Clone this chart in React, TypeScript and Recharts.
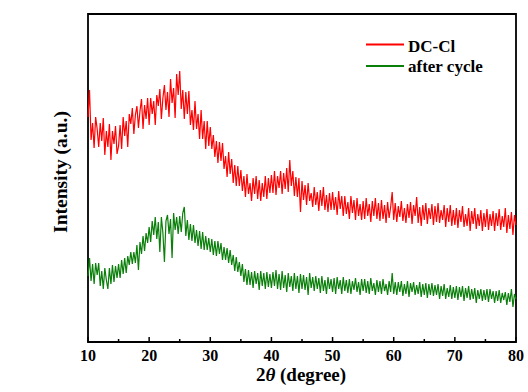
import React from 'react';
import { LineChart, Line, XAxis, YAxis, ReferenceArea } from 'recharts';

// 2θ grid: 10° to 80°, step 0.25°
const START_ANGLE = 10;
const STEP = 0.25;

const xTicks = [10, 15, 20, 25, 30, 35, 40, 45, 50, 55, 60, 65, 70, 75, 80];
const xTickLabels = ['10', '20', '30', '40', '50', '60', '70', '80'];

const seriesNames = ['DC-Cl', 'after cycle'];
const seriesColors = ['#ff0000', '#0a7f0a'];

// Intensity (a.u., offset traces)
const dcCl = [
  225, 252, 202, 219, 194, 225, 213, 195, 219, 201, 224, 187, 211, 195, 218, 182, 211, 198, 216, 188,
  196, 217, 193, 225, 206, 221, 195, 228, 218, 234, 208, 227, 236, 214, 231, 243, 213, 237, 223, 244,
  217, 244, 228, 241, 217, 247, 236, 253, 223, 244, 257, 232, 250, 225, 263, 239, 254, 224, 268, 247,
  271, 233, 252, 223, 250, 228, 251, 217, 232, 212, 241, 213, 228, 203, 232, 203, 221, 193, 221, 196,
  215, 193, 207, 185, 201, 179, 200, 181, 199, 173, 186, 165, 190, 168, 183, 159, 177, 156, 176, 156,
  172, 151, 166, 145, 168, 148, 159, 141, 164, 148, 166, 143, 162, 141, 159, 145, 166, 143, 164, 149,
  167, 149, 171, 147, 166, 154, 171, 148, 169, 153, 174, 150, 182, 156, 171, 146, 165, 145, 164, 130,
  161, 142, 157, 137, 159, 141, 149, 135, 155, 137, 150, 131, 152, 136, 155, 132, 147, 130, 149, 132,
  150, 132, 145, 127, 151, 133, 146, 126, 146, 128, 140, 123, 146, 129, 142, 122, 144, 126, 138, 122,
  141, 123, 144, 126, 138, 120, 141, 126, 144, 123, 139, 121, 142, 123, 137, 119, 140, 124, 135, 150,
  122, 139, 120, 136, 125, 141, 121, 134, 119, 138, 124, 140, 118, 137, 126, 145, 119, 135, 116, 137,
  122, 139, 118, 134, 123, 138, 117, 136, 120, 139, 119, 132, 122, 137, 115, 134, 120, 137, 116, 132,
  117, 134, 114, 132, 120, 136, 115, 128, 116, 134, 111, 131, 118, 134, 113, 128, 116, 132, 111, 129,
  115, 133, 112, 128, 116, 131, 111, 129, 116, 133, 112, 126, 115, 134, 109, 127, 113, 130, 107, 127,
  117,
];

const afterCycle = [
  66, 84, 61, 78, 58, 79, 67, 79, 56, 71, 53, 74, 62, 53, 74, 58, 77, 60, 76, 64,
  78, 64, 82, 68, 84, 69, 86, 77, 90, 78, 90, 79, 97, 72, 100, 88, 106, 91, 109, 99,
  115, 100, 121, 107, 125, 103, 120, 90, 125, 109, 80, 121, 127, 108, 123, 84, 129, 112, 125, 108,
  126, 110, 129, 135, 106, 122, 102, 118, 101, 117, 99, 112, 96, 111, 93, 110, 92, 106, 92, 104,
  90, 103, 87, 101, 86, 101, 88, 99, 82, 95, 82, 94, 79, 92, 77, 87, 71, 85, 70, 80,
  66, 78, 60, 73, 57, 72, 57, 70, 54, 71, 58, 69, 52, 71, 56, 69, 53, 70, 55, 68,
  54, 70, 56, 72, 53, 68, 52, 71, 54, 67, 50, 69, 55, 66, 51, 69, 53, 66, 49, 68,
  53, 67, 52, 65, 47, 69, 54, 65, 51, 66, 53, 64, 49, 66, 51, 62, 48, 65, 53, 63,
  50, 64, 48, 65, 53, 62, 48, 65, 51, 62, 49, 63, 48, 61, 52, 64, 50, 60, 47, 63,
  51, 63, 49, 61, 48, 64, 51, 59, 47, 62, 50, 61, 48, 63, 51, 58, 47, 61, 50, 69,
  48, 60, 47, 60, 50, 61, 46, 58, 48, 61, 45, 59, 50, 60, 47, 57, 48, 60, 45, 58,
  47, 59, 44, 58, 47, 59, 46, 57, 47, 58, 43, 56, 46, 58, 43, 54, 45, 57, 43, 55,
  44, 56, 42, 55, 45, 56, 41, 54, 44, 56, 42, 53, 43, 54, 39, 52, 43, 53, 41, 52,
  42, 53, 40, 53, 43, 51, 39, 51, 41, 52, 39, 49, 42, 50, 37, 49, 40, 53, 35, 48,
  43,
];

const data = dcCl.map((v, i) => ({
  t: START_ANGLE + i * STEP,
  dc: v,
  after: afterCycle[i],
}));

const FONT = '"Liberation Serif", "Times New Roman", serif';

const BottomTick = (props: any) => {
  const { x, y, payload } = props;
  const v = payload.value;
  const major = v % 10 === 0;
  return (
    <g>
      <line x1={x} y1={y} x2={x} y2={y - (major ? 5 : 3)} stroke="#000" strokeWidth={1.5} />
      {major && xTickLabels.includes(String(v)) ? (
        <text x={x} y={y + 19} textAnchor="middle" fontFamily={FONT} fontWeight="bold" fontSize={16} fill="#000">
          {String(v)}
        </text>
      ) : null}
    </g>
  );
};

export default function App() {
  return (
    <div style={{ position: 'absolute', left: 0, top: 0, width: 528, height: 392, background: '#fff' }}>
      <LineChart width={528} height={392} data={data} margin={{ top: 14, right: 12, bottom: 0, left: 88 }}>
        <XAxis
          dataKey="t"
          type="number"
          domain={[10, 80]}
          ticks={xTicks}
          interval={0}
          height={50}
          tickSize={0}
          tickMargin={0}
          tickLine={false}
          axisLine={{ stroke: '#000', strokeWidth: 1.5 }}
          tick={<BottomTick />}
        />
        <YAxis
          type="number"
          domain={[0, 328]}
          width={0}
          tick={false}
          tickLine={false}
          axisLine={{ stroke: '#000', strokeWidth: 1.5 }}
        />
        <Line
          type="linear"
          dataKey="dc"
          name={seriesNames[0]}
          stroke={seriesColors[0]}
          strokeWidth={1.2}
          dot={false}
          isAnimationActive={false}
        />
        <Line
          type="linear"
          dataKey="after"
          name={seriesNames[1]}
          stroke={seriesColors[1]}
          strokeWidth={1.2}
          dot={false}
          isAnimationActive={false}
        />
        <ReferenceArea
          x1={10}
          x2={80}
          y1={0}
          y2={328}
          fill="none"
          fillOpacity={0}
          stroke="#000"
          strokeWidth={1.8}
          ifOverflow="visible"
        />
        <g>
          <line x1={366} y1={44.5} x2={404} y2={44.5} stroke={seriesColors[0]} strokeWidth={2} />
          <text x={408} y={51.5} fontFamily={FONT} fontWeight="bold" fontSize={17} fill="#000">{seriesNames[0]}</text>
          <line x1={366} y1={66} x2={404} y2={66} stroke={seriesColors[1]} strokeWidth={2} />
          <text x={408} y={72} fontFamily={FONT} fontWeight="bold" fontSize={17} fill="#000">{seriesNames[1]}</text>
        </g>
        <text x={67} y={172} transform="rotate(-90 67 172)" textAnchor="middle" fontFamily={FONT} fontWeight="bold" fontSize={19.5} fill="#000">
          Intensity (a.u.)
        </text>
        <text x={301} y={381} textAnchor="middle" fontFamily={FONT} fontWeight="bold" fontSize={19} fill="#000">
          2<tspan fontStyle="italic">θ</tspan> (degree)
        </text>
      </LineChart>
    </div>
  );
}
